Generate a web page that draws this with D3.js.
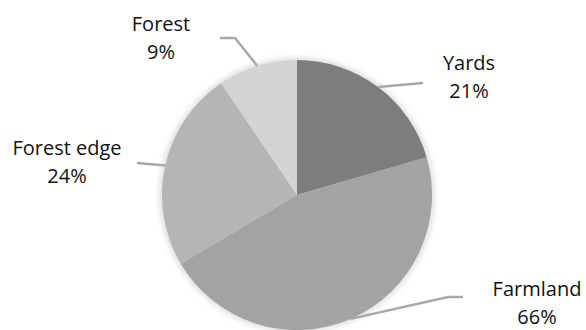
<!DOCTYPE html>
<html>
<head>
<meta charset="utf-8">
<script src="https://cdn.jsdelivr.net/npm/d3@7"></script>
<style>
  html, body { margin: 0; padding: 0; background: #fff; }
  svg { display: block; }
</style>
</head>
<body>
<svg id="chart" width="586" height="330"></svg>
<script>
// ---- data ----
const categories = ["Yards", "Farmland", "Forest edge", "Forest"];
const values = [20.5, 46, 24, 9.5];
const labelTexts = ["21%", "66%", "24%", "9%"];
const colors = ["#7d7d7d", "#a3a3a3", "#b5b5b5", "#d3d3d3"];

// ---- layout ----
const W = 586, H = 330;
const cx = 297, cy = 195, R = 135;
// label anchor (center x, first baseline) and leader-line bends, relative to chart center
const labelPos = [
  { x: 172, y: -125, pts: [[126, -112]] },
  { x: 240, y: 101, pts: [[151, 102], [166, 102]] },
  { x: -230, y: -40, pts: [[-160, -32]] },
  { x: -136, y: -164, pts: [[-62, -157], [-77, -157]] }
];
const lineGap = 28;

const svg = d3.select("#chart");
const defs = svg.append("defs");
const f = defs.append("filter").attr("id", "glow")
  .attr("x", "-20%").attr("y", "-20%").attr("width", "140%").attr("height", "140%");
f.append("feGaussianBlur").attr("stdDeviation", 3);

const g = svg.append("g").attr("transform", `translate(${cx},${cy})`);

// soft halo
g.append("circle").attr("r", R + 2).attr("fill", "#d8d8d8").attr("filter", "url(#glow)");

const pie = d3.pie().sort(null).value(d => d);
const arcs = pie(values);
const arc = d3.arc().innerRadius(0).outerRadius(R);
const edge = d3.arc().innerRadius(R).outerRadius(R);

g.selectAll("path.slice").data(arcs).enter().append("path")
  .attr("class", "slice")
  .attr("d", arc)
  .attr("fill", (d, i) => colors[i]);

// leader lines
const line = d3.line();
g.selectAll("path.leader").data(arcs).enter().append("path")
  .attr("class", "leader")
  .attr("d", (d, i) => {
    const p0 = edge.centroid(d);
    return line([p0, ...labelPos[i].pts]);
  })
  .attr("fill", "none")
  .attr("stroke", "#a8a8a8")
  .attr("stroke-width", 2.5);

// labels
const lab = g.selectAll("text.lab").data(arcs).enter().append("text")
  .attr("class", "lab")
  .attr("text-anchor", "middle")
  .attr("font-family", "'Open Sans', 'Noto Sans', sans-serif")
  .attr("font-size", 20)
  .attr("fill", "#111");
lab.append("tspan")
  .attr("x", (d, i) => labelPos[i].x)
  .attr("y", (d, i) => labelPos[i].y)
  .text((d, i) => categories[i]);
lab.append("tspan")
  .attr("x", (d, i) => labelPos[i].x)
  .attr("y", (d, i) => labelPos[i].y + lineGap)
  .text((d, i) => labelTexts[i]);
</script>
</body>
</html>
